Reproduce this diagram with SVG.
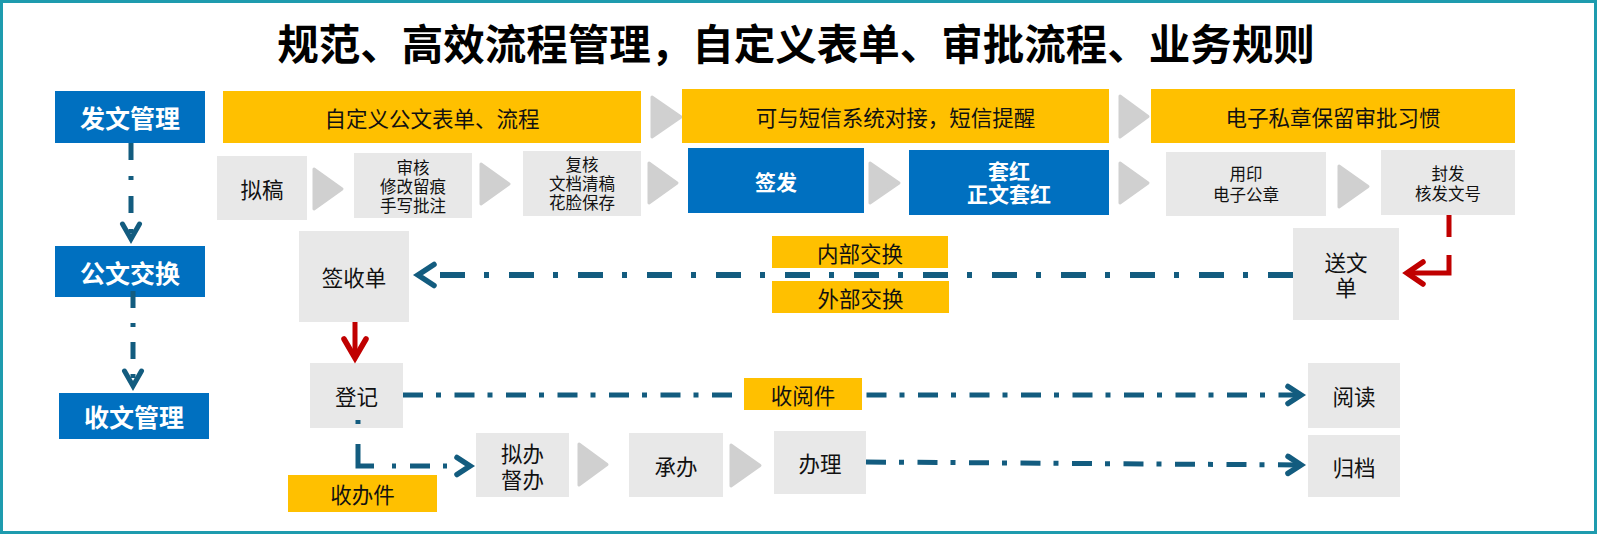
<svg xmlns="http://www.w3.org/2000/svg" width="1597" height="534" viewBox="0 0 1597 534">
<defs>
<style>
.blue{fill:#0070C0}
.yel{fill:#FFC000}
.grey{fill:#E8E8E8}
.chev{fill:#D0D0D0;stroke:#D0D0D0;stroke-width:3;stroke-linejoin:round}
text{font-family:"Noto Sans CJK SC","Noto Sans",sans-serif;text-anchor:middle;dominant-baseline:central;fill:#111}
.b{font-size:21.5px}
.s{font-size:16.5px}
.w{fill:#fff;font-weight:bold;font-size:21px}
.h{fill:#fff;font-weight:bold;font-size:25px}
.ln{fill:none;stroke:#135C7F;stroke-width:5}
.red{fill:none;stroke:#C00000;stroke-width:5}
</style>
<marker id="abig" markerUnits="userSpaceOnUse" viewBox="-30 -20 40 40" markerWidth="40" markerHeight="40" refX="0" refY="0" orient="auto">
<path d="M-16,-10.5 L0,0 L-16,10.5" fill="none" stroke="#135C7F" stroke-width="5.5" stroke-linecap="round"/>
</marker>
<marker id="asm" markerUnits="userSpaceOnUse" viewBox="-30 -20 40 40" markerWidth="40" markerHeight="40" refX="0" refY="0" orient="auto">
<path d="M-13,-8.5 L0,0 L-13,8.5" fill="none" stroke="#135C7F" stroke-width="5.5" stroke-linecap="round"/>
</marker>
<marker id="av" markerUnits="userSpaceOnUse" viewBox="-30 -20 40 40" markerWidth="40" markerHeight="40" refX="0" refY="0" orient="auto">
<path d="M-15,-8.5 L0,0 L-15,8.5" fill="none" stroke="#135C7F" stroke-width="5" stroke-linecap="round"/>
</marker>
<marker id="ared" markerUnits="userSpaceOnUse" viewBox="-30 -20 40 40" markerWidth="40" markerHeight="40" refX="0" refY="0" orient="auto">
<path d="M-16,-11 L0,0 L-16,11" fill="none" stroke="#C00000" stroke-width="5.5" stroke-linecap="round"/>
</marker>
<marker id="ared2" markerUnits="userSpaceOnUse" viewBox="-30 -20 40 40" markerWidth="40" markerHeight="40" refX="0" refY="0" orient="auto">
<path d="M-19,-11 L0,0 L-19,11" fill="none" stroke="#C00000" stroke-width="5.5" stroke-linecap="round"/>
</marker>
</defs>
<rect x="0" y="0" width="1597" height="534" fill="#fff"/>
<rect x="1.5" y="1.5" width="1594" height="531" fill="none" stroke="#1E9BAE" stroke-width="3"/>
<text x="796" y="42" style="font-size:41.5px;font-weight:bold;fill:#000">规范、高效流程管理，自定义表单、审批流程、业务规则</text>

<g id="chevrons">
<path class="chev" d="M652,97 L681,117 L652,137 Z"/>
<path class="chev" d="M1120,96 L1148,116.5 L1120,137 Z"/>
<path class="chev" d="M314,169 L342,189 L314,209 Z"/>
<path class="chev" d="M481,164 L509,184 L481,204 Z"/>
<path class="chev" d="M649,163 L677,183 L649,203 Z"/>
<path class="chev" d="M870,163 L899,183 L870,203 Z"/>
<path class="chev" d="M1120,163 L1148,183 L1120,203 Z"/>
<path class="chev" d="M1339,166 L1368,186.5 L1339,207 Z"/>
<path class="chev" d="M579,444 L607,464.5 L579,485 Z"/>
<path class="chev" d="M731,445 L760,465.5 L731,486 Z"/>
</g>

<g id="n-fawen"><rect class="blue" x="55" y="91" width="150" height="52"/><text class="h" x="130" y="117">发文管理</text></g>
<g id="n-gongwen"><rect class="blue" x="55" y="246" width="150" height="51"/><text class="h" x="130" y="271.5">公文交换</text></g>
<g id="n-shouwen"><rect class="blue" x="59" y="393" width="150" height="46"/><text class="h" x="134" y="416">收文管理</text></g>

<g id="n-y1"><rect class="yel" x="223" y="91" width="418" height="52"/><text class="b" x="432" y="117">自定义公文表单、流程</text></g>
<g id="n-y2"><rect class="yel" x="682" y="89" width="427" height="54"/><text class="b" x="895.5" y="116">可与短信系统对接，短信提醒</text></g>
<g id="n-y3"><rect class="yel" x="1151" y="89" width="364" height="54"/><text class="b" x="1333" y="116">电子私章保留审批习惯</text></g>

<g id="n-nigao"><rect class="grey" x="217" y="156" width="90" height="64"/><text class="b" x="262" y="188">拟稿</text></g>
<g id="n-shenhe"><rect class="grey" x="354" y="153" width="118" height="65"/><text class="s" x="413" y="166.5">审核</text><text class="s" x="413" y="185.5">修改留痕</text><text class="s" x="413" y="204.5">手写批注</text></g>
<g id="n-fuhe"><rect class="grey" x="523" y="151" width="118" height="65"/><text class="s" x="582" y="164">复核</text><text class="s" x="582" y="183">文档清稿</text><text class="s" x="582" y="202">花脸保存</text></g>
<g id="n-qianfa"><rect class="blue" x="688" y="148" width="176" height="65"/><text class="w" x="776" y="180.5">签发</text></g>
<g id="n-taohong"><rect class="blue" x="909" y="150" width="200" height="65"/><text class="w" x="1009" y="170">套红</text><text class="w" x="1009" y="193">正文套红</text></g>
<g id="n-yongyin"><rect class="grey" x="1166" y="152" width="160" height="64"/><text class="s" x="1246" y="173">用印</text><text class="s" x="1246" y="194">电子公章</text></g>
<g id="n-fengfa"><rect class="grey" x="1381" y="150" width="134" height="65"/><text class="s" x="1448" y="172.5">封发</text><text class="s" x="1448" y="192.5">核发文号</text></g>

<g id="n-qianshou"><rect class="grey" x="299" y="231" width="110" height="91"/><text class="b" x="354" y="276">签收单</text></g>
<g id="n-neibu"><rect class="yel" x="772" y="236" width="176" height="32"/><text class="b" x="860" y="252">内部交换</text></g>
<g id="n-waibu"><rect class="yel" x="772" y="281" width="177" height="32"/><text class="b" x="860.5" y="297">外部交换</text></g>
<g id="n-songwen"><rect class="grey" x="1293" y="228" width="106" height="92"/><text class="b" x="1346" y="261">送文</text><text class="b" x="1346" y="286">单</text></g>

<g id="n-dengji"><rect class="grey" x="310" y="363" width="93" height="65"/><text class="b" x="356.5" y="395.5">登记</text></g>
<g id="n-yuedu"><rect class="grey" x="1308" y="363" width="92" height="65"/><text class="b" x="1354" y="395.5">阅读</text></g>
<g id="n-guidang"><rect class="grey" x="1308" y="435" width="92" height="62"/><text class="b" x="1354" y="466">归档</text></g>
<g id="n-niban"><rect class="grey" x="476" y="433" width="93" height="64"/><text class="b" x="522.5" y="452">拟办</text><text class="b" x="522.5" y="478">督办</text></g>
<g id="n-chengban"><rect class="grey" x="629" y="433" width="94" height="64"/><text class="b" x="676" y="465">承办</text></g>
<g id="n-banli"><rect class="grey" x="774" y="431" width="92" height="63"/><text class="b" x="820" y="462">办理</text></g>
<g id="n-shouban"><rect class="yel" x="288" y="475" width="149" height="37"/><text class="b" x="362.5" y="493.5">收办件</text></g>

<g id="connectors">
<path class="ln" d="M131,143 V239" stroke-dasharray="17 16 4 16" marker-end="url(#av)"/>
<path class="ln" d="M133,291 V386" stroke-dasharray="17 15 4 15" marker-end="url(#av)"/>
<path class="ln" d="M1293,275 H418" style="stroke-width:6" stroke-dasharray="25 20 5 19" marker-end="url(#abig)"/>
<path class="red" d="M1449,215 V273 H1407" stroke-dasharray="22 18 200" marker-end="url(#ared)"/>
<path class="red" d="M355,322 V358" marker-end="url(#ared2)"/>
<path class="ln" d="M403,395 H1301" stroke-dasharray="20 13 5 13.5" marker-end="url(#asm)"/>
<path class="ln" d="M866,462 L1301,465" stroke-dasharray="20 13 5 13.5" marker-end="url(#asm)"/>
<path class="ln" d="M358,420 V466 H470" stroke-dasharray="4 20 38 18 4 14 20 13 4 100" marker-end="url(#asm)"/>
</g>

<g id="n-shouyue"><rect class="yel" x="744" y="378" width="118" height="32"/><text class="b" x="803" y="394">收阅件</text></g>
</svg>
